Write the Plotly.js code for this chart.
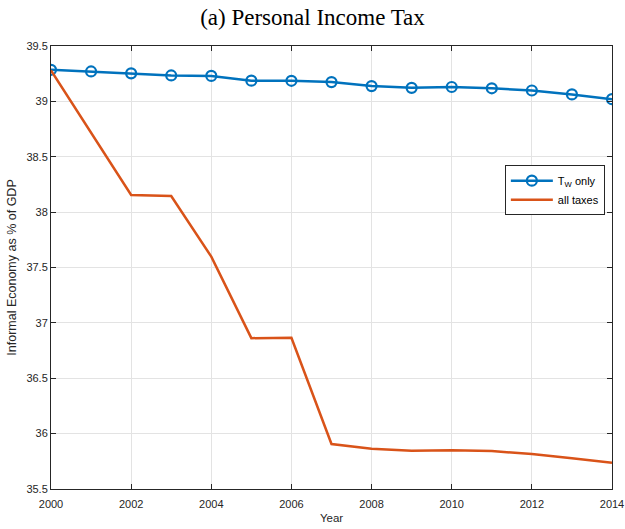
<!DOCTYPE html>
<html>
<head>
<meta charset="utf-8">
<script src="https://cdn.plot.ly/plotly-3.0.1.min.js"></script>
<style>
  html, body { margin: 0; padding: 0; background: #fff; }
  #chart { width: 625px; height: 529px; }
</style>
</head>
<body>
<div id="chart"></div>
<script>
// Years on the horizontal axis
const years = [2000, 2001, 2002, 2003, 2004, 2005, 2006, 2007, 2008, 2009, 2010, 2011, 2012, 2013, 2014];

// Informal economy (% of GDP) when only the wage tax T_W changes
const twOnly = [39.285, 39.27, 39.253, 39.234, 39.23, 39.187, 39.186, 39.174, 39.138, 39.122, 39.13, 39.118, 39.098, 39.063, 39.02];

// Informal economy (% of GDP) when all taxes change
const allTaxes = [39.28, 38.72, 38.155, 38.145, 37.598, 36.862, 36.865, 35.906, 35.864, 35.845, 35.851, 35.842, 35.816, 35.778, 35.737];

// Axis ticks
const xTicks = [2000, 2002, 2004, 2006, 2008, 2010, 2012, 2014];
const yTicks = [35.5, 36, 36.5, 37, 37.5, 38, 38.5, 39, 39.5];
const yTickText = ['35.5', '36', '36.5', '37', '37.5', '38', '38.5', '39', '39.5'];

const blue = '#0072BD';
const orange = '#D95319';
const sans = 'Liberation Sans, Arial, sans-serif';

const traces = [
  {
    x: years, y: twOnly, name: 'T<sub>W</sub> only',
    type: 'scatter', mode: 'lines+markers',
    line: { color: blue, width: 2.5 },
    marker: { symbol: 'circle-open', size: 10, color: blue, line: { width: 2.2, color: blue } }
  },
  {
    x: years, y: allTaxes, name: 'all taxes',
    type: 'scatter', mode: 'lines',
    line: { color: orange, width: 2.5 }
  }
];

const axisCommon = {
  showline: true, linecolor: '#262626', linewidth: 1, mirror: 'ticks',
  ticks: 'inside', ticklen: 5, tickcolor: '#262626', tickwidth: 1,
  showgrid: true, gridcolor: '#e3e3e3', gridwidth: 1,
  zeroline: false,
  tickfont: { family: sans, size: 11, color: '#262626' }
};

const layout = {
  width: 625, height: 529,
  margin: { l: 51, r: 13, t: 46, b: 40 },
  paper_bgcolor: '#fff', plot_bgcolor: '#fff',
  showlegend: true,
  title: {
    text: '(a) Personal Income Tax',
    font: { family: 'Liberation Serif, Times New Roman, serif', size: 23, color: '#000' },
    x: 0.5, xanchor: 'center', y: 0.968, yanchor: 'middle'
  },
  xaxis: Object.assign({}, axisCommon, {
    range: [2000, 2014], tickvals: xTicks, ticklabelstandoff: 5,
    title: { text: 'Year', standoff: 4,
      font: { family: sans, size: 11.5, color: '#262626' } }
  }),
  yaxis: Object.assign({}, axisCommon, {
    range: [35.5, 39.5], tickvals: yTicks, ticktext: yTickText,
    title: { text: 'Informal Economy as % of GDP', standoff: 7,
      font: { family: sans, size: 12.5, color: '#262626' } }
  }),
  legend: {
    x: 0.809, y: 0.731, xanchor: 'left', yanchor: 'top',
    bgcolor: '#fff', bordercolor: '#262626', borderwidth: 1,
    font: { family: sans, size: 11, color: '#000' },
    tracegroupgap: 0, itemwidth: 42
  }
};

Plotly.newPlot('chart', traces, layout, { displayModeBar: false, staticPlot: true });
</script>
</body>
</html>
